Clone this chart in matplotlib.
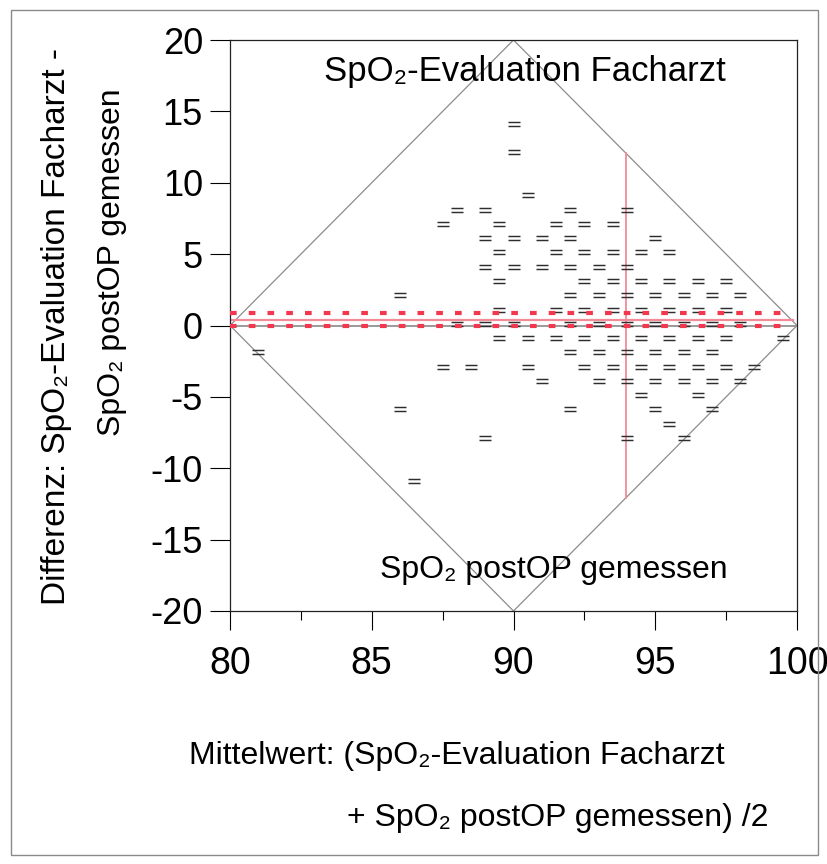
import numpy as np
import matplotlib
matplotlib.use("Agg")
import matplotlib.pyplot as plt
from matplotlib.path import Path
from matplotlib.patches import Rectangle

plt.rcParams['font.family'] = ['Liberation Sans', 'DejaVu Sans']

# differences (rows) and the means found on each row
diff_rows = [14, 12, 9, 8, 7, 6, 5, 4, 3, 2, 1, 0, -1, -2, -3, -4, -5, -6, -7, -8, -11]
mean_rows = [
    [90],
    [90],
    [90.5],
    [88, 89, 92, 94],
    [87.5, 89.5, 91.5, 92.5, 93.5],
    [89, 90, 91, 92, 95],
    [89.5, 91.5, 92.5, 93.5, 94.5, 95.5],
    [89, 90, 91, 92, 93, 94],
    [89.5, 92.5, 93.5, 94.5, 95.5, 96.5, 97.5],
    [86, 92, 93, 94, 95, 96, 97, 98],
    [89.5, 91.5, 92.5, 93.5, 94.5, 95.5, 96.5, 97.5],
    [88, 89, 90, 92, 93, 94, 95, 96, 97, 98],
    [89.5, 90.5, 91.5, 92.5, 93.5, 94.5, 95.5, 96.5, 97.5, 99.5],
    [81, 92, 93, 94, 95, 96, 97],
    [87.5, 88.5, 90.5, 92.5, 93.5, 94.5, 95.5, 96.5, 97.5, 98.5],
    [91, 93, 94, 95, 96, 97, 98],
    [94.5, 96.5],
    [86, 92, 95, 97],
    [95.5],
    [89, 94, 96],
    [86.5],
]

# summary values
mean_diff = 0.42
ci_low = -0.01
ci_high = 0.85
mean_of_means = 93.96
range_lo, range_hi = 80, 100

x_ticks = [80, 85, 90, 95, 100]
y_ticks = [20, 15, 10, 5, 0, -5, -10, -15, -20]

means = np.array([m for row in mean_rows for m in row])
diffs = np.array([d for d, row in zip(diff_rows, mean_rows) for _ in row])

fig = plt.figure(figsize=(8.27, 8.64), dpi=100)
ax = fig.add_axes([230 / 827, 1 - 611 / 864, 567 / 827, 571 / 864])

# outer frame round the whole picture
fig.patches.append(Rectangle((10.5 / 827, 1 - 855 / 864), 807 / 827, 845 / 864,
                             transform=fig.transFigure, fill=False,
                             edgecolor='#8a8a8a', linewidth=1.0))

span = range_hi - range_lo
mid = (range_lo + range_hi) / 2
# diamond of possible values
ax.plot([range_lo, mid, range_hi, mid, range_lo], [0, span, 0, -span, 0],
        color='#8c8c8c', lw=0.9, zorder=1)
ax.plot([range_lo, range_hi], [0, 0], color='#9a9a9a', lw=1.4, zorder=1)

# "=" markers
eq = Path([(-1, 0.4), (1, 0.4), (-1, -0.4), (1, -0.4)],
          [Path.MOVETO, Path.LINETO, Path.MOVETO, Path.LINETO])
ax.plot(means, diffs + 0.12, linestyle='none', marker=eq, markersize=8,
        markeredgewidth=1.05, markeredgecolor='#2e2e2e', zorder=3)

# mean difference and its confidence interval
ax.plot([range_lo, range_hi - 0.15], [mean_diff, mean_diff], color='#f28a98', lw=1.6, zorder=2)
for v in (ci_low, ci_high):
    ax.plot([range_lo, range_hi - 0.4], [v, v], color='#f2384f', lw=3.0,
            dashes=(1.6, 2.9), zorder=4)
half = 2 * (range_hi - mean_of_means)
ax.plot([mean_of_means, mean_of_means], [-half, half], color='#f28a98', lw=1.3, zorder=2)

ax.text(0.875, 0.944, 'SpO₂-Evaluation Facharzt', transform=ax.transAxes,
        ha='right', va='center', fontsize=25)
ax.text(0.877, 0.072, 'SpO₂ postOP gemessen', transform=ax.transAxes,
        ha='right', va='center', fontsize=23)

ax.set_xlim(range_lo, range_hi)
ax.set_ylim(-20, 20)
ax.set_xticks(x_ticks)
ax.set_xticks([82.5, 87.5, 92.5, 97.5], minor=True)
ax.set_yticks(y_ticks)
ax.set_yticklabels([str(t) for t in y_ticks])
ax.tick_params(axis='y', which='major', direction='out', length=14.5, width=0.8,
               labelsize=26, pad=5)
ax.tick_params(axis='x', which='major', direction='out', length=14, width=0.8,
               labelsize=27, pad=11)
ax.tick_params(axis='x', which='minor', direction='out', length=6.5, width=0.8)
for s in ax.spines.values():
    s.set_linewidth(0.9)
    s.set_color('#222222')

# axis titles, two lines each
fig.text(57 / 827, 1 - 605 / 864, 'Differenz: SpO₂-Evaluation Facharzt -',
         rotation=90, rotation_mode='anchor', ha='left', va='center', fontsize=24)
fig.text(112 / 827, 1 - 88 / 864, 'SpO₂ postOP gemessen',
         rotation=90, rotation_mode='anchor', ha='right', va='center', fontsize=23)
fig.text(189 / 827, 1 - 756 / 864, 'Mittelwert: (SpO₂-Evaluation Facharzt',
         ha='left', va='center', fontsize=23)
fig.text(347 / 827, 1 - 818 / 864, '+ SpO₂ postOP gemessen) /2',
         ha='left', va='center', fontsize=23)

fig.savefig('out.png', dpi=100)
